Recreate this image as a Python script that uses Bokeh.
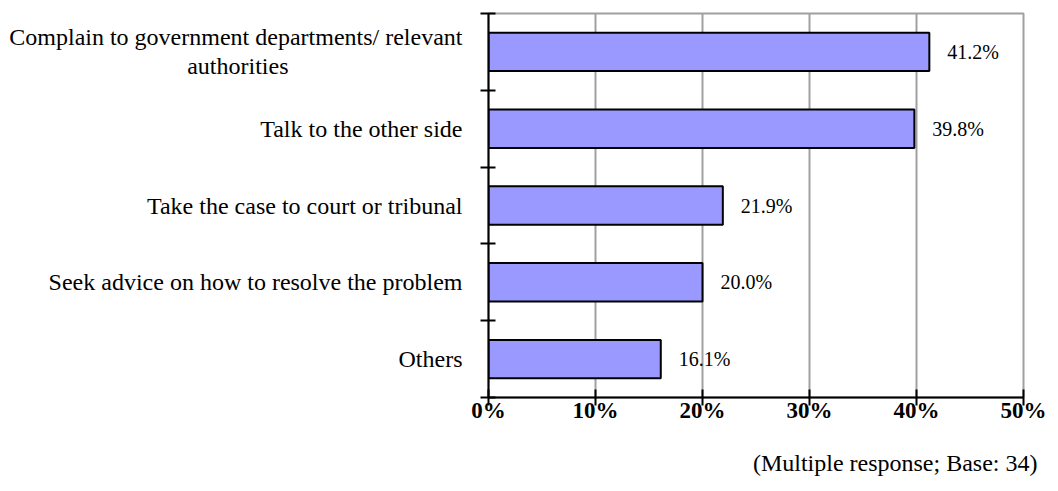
from bokeh.plotting import figure
from bokeh.models import (Range1d, FixedTicker, ColumnDataSource, PrintfTickFormatter,
                          LinearAxis, Title)
from bokeh.core.properties import value
from bokeh.embed import file_html
from bokeh.resources import INLINE

categories = [
    "Complain to government departments/ relevant\nauthorities",
    "Talk to the other side",
    "Take the case to court or tribunal",
    "Seek advice on how to resolve the problem",
    "Others",
]
values = [41.2, 39.8, 21.9, 20.0, 16.1]
value_labels = ["41.2%", "39.8%", "21.9%", "20.0%", "16.1%"]
x_ticks = [0, 10, 20, 30, 40, 50]
note = "(Multiple response; Base: 34)"

FONT = "Liberation Serif"
n = len(categories)
pos = list(range(n))
boundaries = [i - 0.5 for i in range(n + 1)]


def centered(label, pad_count=29):
    # visually centre the wrapped second line under the first (axis labels are right-aligned)
    if "\n" not in label:
        return label
    first, second = label.split("\n", 1)
    return first + "\n" + second + "\u00a0" * pad_count


p = figure(
    width=1050, height=483,
    frame_width=535, frame_height=384,
    min_border_left=488, min_border_right=27, min_border_top=13, min_border_bottom=86,
    x_range=Range1d(0, 50), y_range=Range1d(n - 0.5, -0.5),
    output_backend="svg", toolbar_location=None,
)
p.background_fill_color = "white"
p.border_fill_color = "white"
p.outline_line_color = "#a0a0a0"
p.outline_line_width = 2

src = ColumnDataSource(dict(y=pos, right=values, lab=value_labels))
p.hbar(y="y", left=0, right="right", height=0.5, source=src,
       fill_color="#9999FF", line_color="black", line_width=2)
p.text(x="right", y="y", text="lab", source=src, x_offset=18,
       text_baseline="middle", text_align="left",
       text_font=value(FONT), text_font_size="20px", text_color="black")

# x axis
xa = p.xaxis[0]
xa.ticker = FixedTicker(ticks=x_ticks)
xa.formatter = PrintfTickFormatter(format="%d%%")
xa.axis_line_color = "black"
xa.axis_line_width = 2
xa.major_tick_line_width = 2
xa.major_tick_in = 8
xa.major_tick_out = 8
xa.minor_tick_line_color = None
xa.major_label_text_font = FONT
xa.major_label_text_font_style = "bold"
xa.major_label_text_font_size = "23px"
xa.major_label_text_color = "black"
xa.major_label_standoff = -8

# y axis: tick marks at category boundaries (no labels)
ya = p.yaxis[0]
ya.ticker = FixedTicker(ticks=boundaries)
ya.major_label_overrides = {b: "" for b in boundaries}
ya.major_label_text_color = None
ya.axis_line_color = "black"
ya.axis_line_width = 2
ya.major_tick_line_width = 2
ya.major_tick_in = 7
ya.major_tick_out = 8
ya.minor_tick_line_color = None
ya.major_label_standoff = 0

# y axis: category labels
cat_axis = LinearAxis(
    ticker=FixedTicker(ticks=pos),
    major_label_overrides={i: centered(c) for i, c in zip(pos, categories)},
    axis_line_color=None, major_tick_line_color=None, minor_tick_line_color=None,
    major_tick_in=0, major_tick_out=0, major_label_standoff=18,
    major_label_text_font=FONT, major_label_text_font_size="24px",
    major_label_text_color="black", major_label_text_line_height=1.12,
)
p.add_layout(cat_axis, "left")

p.xgrid.ticker = FixedTicker(ticks=x_ticks)
p.xgrid.grid_line_color = "#a0a0a0"
p.xgrid.grid_line_width = 2
p.ygrid.grid_line_color = None

p.add_layout(Title(text=note, align="right", offset=-14, standoff=45,
                   text_font=FONT, text_font_size="24px", text_font_style="normal",
                   text_color="black"), "below")

open("out.html", "w").write(file_html(p, INLINE))
